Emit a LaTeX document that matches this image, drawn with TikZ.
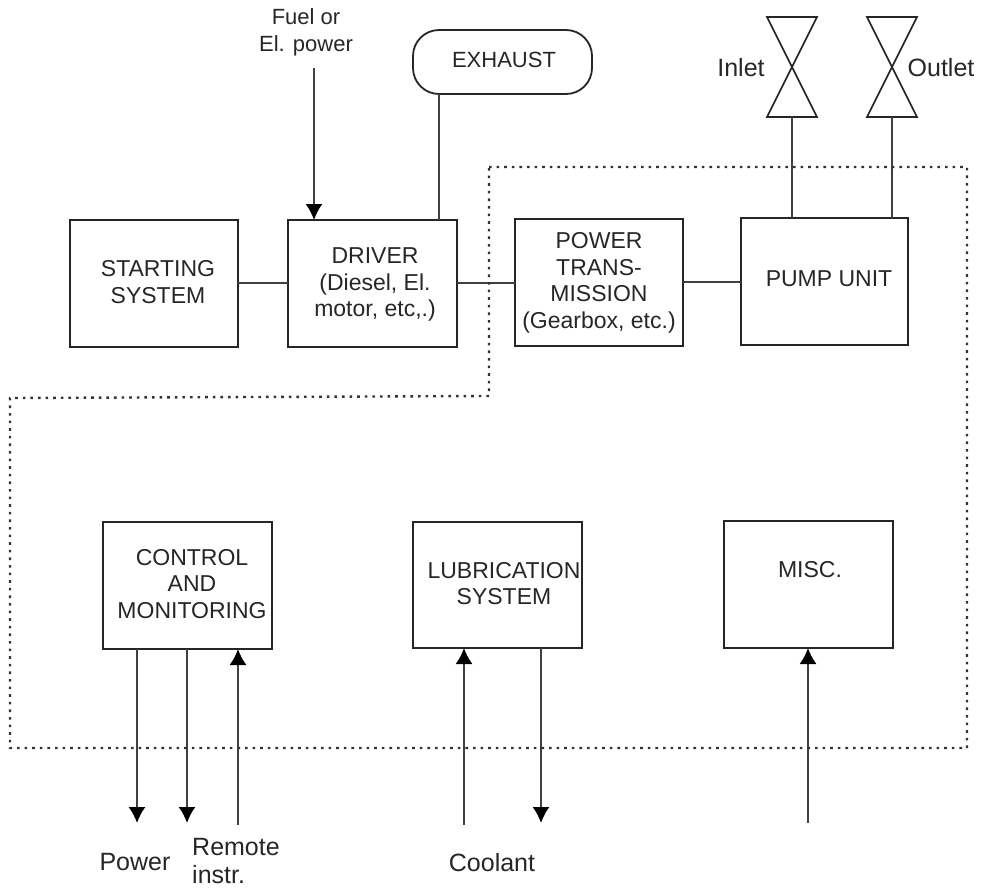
\documentclass[tikz,border=0pt]{standalone}
\usepackage{fontspec}
\setmainfont{Liberation Sans}
\usetikzlibrary{arrows.meta}
\tikzset{
 px/.style={x=1pt,y=-1pt},
 blockbox/.style={draw=black!85,line width=1.8pt,inner sep=0pt,outer sep=0pt,align=center,anchor=north west},
 lbl/.style={font=\fontsize{23}{26.5}\selectfont,text=black!85,align=center,inner sep=0pt},
 biglbl/.style={lbl,font=\fontsize{25}{28}\selectfont},
 conn/.style={draw=black!75,line width=1.8pt},
 arr/.style={conn,-{Latex[length=16pt,width=17pt,black]}},
 bound/.style={draw=black!80,line width=2.4pt,dash pattern=on 2.6pt off 5pt},
 valve/.style={draw=black!85,line width=1.6pt}
}
\begin{document}
\begin{tikzpicture}[px]
\useasboundingbox (0,0) rectangle (982,887);
\node[blockbox,minimum width=168pt,minimum height=127pt] (start) at (70,220) {};
\node[blockbox,minimum width=169pt,minimum height=127pt] (driver) at (288,220) {};
\node[blockbox,minimum width=168pt,minimum height=127pt] (trans) at (515,219) {};
\node[blockbox,minimum width=167pt,minimum height=127pt] (pump) at (741,218) {};
\node[blockbox,minimum width=169pt,minimum height=127pt] (ctrl) at (103,522) {};
\node[blockbox,minimum width=169pt,minimum height=126pt] (lub) at (413,522) {};
\node[blockbox,minimum width=169pt,minimum height=127pt] (misc) at (724,521) {};
\node[blockbox,minimum width=179pt,minimum height=64pt,rounded corners=26pt] (exh) at (413,30) {};
\node[lbl] (tstart) at (158,282) {STARTING\\SYSTEM};
\node[lbl] (tdriver) at (375,284.5) {DRIVER\\(Diesel, El.\\motor, etc,.)};
\node[lbl] (ttrans) at (599,283) {POWER\\TRANS-\\MISSION\\(Gearbox, etc.)};
\node[lbl] (tpump) at (829,279) {PUMP UNIT};
\node[lbl] (tctrl) at (192,584) {CONTROL\\AND\\MONITORING};
\node[lbl] (tlub) at (504,583.5) {LUBRICATION\\SYSTEM};
\node[lbl] (tmisc) at (810,570) {MISC.};
\node[lbl,font=\fontsize{22}{26.5}\selectfont] (texh) at (504,60) {EXHAUST};
\node[lbl,font=\fontsize{22}{27}\selectfont] (tfuel) at (306,32) {Fuel or\\El. power};
\node[biglbl] (tin) at (741,68) {Inlet};
\node[biglbl] (tout) at (941,68) {Outlet};
\node[biglbl] (tpower) at (135,862) {Power};
\node[biglbl,align=left,anchor=west] (tremote) at (192,861) {Remote\\instr.};
\node[biglbl] (tcool) at (492,863) {Coolant};
\coordinate (v1) at (792,67);
\coordinate (v2) at (892,67);
\draw[valve] (v1) -- (767,17) -- (817,17) -- (v1) -- (767,117) -- (817,117) -- cycle;
\draw[valve] (v2) -- (867,17) -- (917,17) -- (v2) -- (867,117) -- (917,117) -- cycle;
\coordinate (fuel) at (314,68);
\draw[arr] (fuel) -- (314,220);
\draw[conn] (439,94) -- (439,220);
\draw[conn] (start.east |- 0,283) -- (driver.west |- 0,283);
\draw[conn] (driver.east |- 0,283) -- (trans.west |- 0,283);
\draw[conn] (trans.east |- 0,282) -- (pump.west |- 0,282);
\draw[conn] (792,117) -- (792,218);
\draw[conn] (892,117) -- (892,218);
\coordinate (c1) at (137,823);
\coordinate (c2) at (187,823);
\coordinate (c3) at (238,825);
\coordinate (c4) at (464,825);
\coordinate (c5) at (541,823);
\coordinate (c6) at (808,823);
\draw[arr] (137,649) -- (c1);
\draw[arr] (187,649) -- (c2);
\draw[arr] (c3) -- (238,649);
\draw[arr] (c4) -- (464,648);
\draw[arr] (541,648) -- (c5);
\draw[arr] (c6) -- (808,648);
\draw[bound] (489,167) -- (967,167) -- (967,748) -- (10,748) -- (10,398) -- (489,396) -- cycle;
\end{tikzpicture}
\end{document}
